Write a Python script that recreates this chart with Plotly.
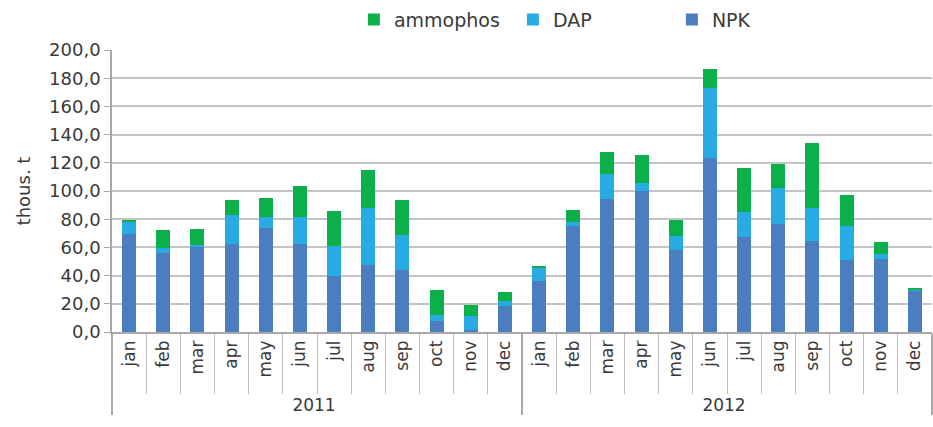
import plotly.graph_objects as go

# Monthly shipments, thousand tonnes
years = ["2011"] * 12 + ["2012"] * 12
months = ["jan", "feb", "mar", "apr", "may", "jun",
          "jul", "aug", "sep", "oct", "nov", "dec"] * 2

npk = [69.8, 56.1, 60.8, 62.5, 73.6, 62.7, 40.0, 47.6, 44.3, 7.6, 1.2, 18.7,
       36.4, 75.0, 94.0, 99.9, 58.0, 123.6, 67.2, 76.7, 64.4, 51.4, 51.8, 29.6]
dap = [8.1, 3.3, 1.2, 20.3, 7.8, 18.7, 20.8, 40.2, 24.8, 4.2, 10.2, 3.1,
       9.3, 3.3, 18.4, 5.9, 9.9, 49.7, 18.0, 25.3, 23.6, 23.6, 3.8, 0.5]
ammophos = [1.6, 12.8, 11.4, 10.9, 13.7, 22.5, 24.9, 27.0, 24.6, 18.3, 7.5, 6.6,
            1.4, 8.1, 15.2, 19.4, 11.6, 13.0, 31.2, 17.3, 46.2, 22.3, 8.3, 1.1]

series = [("NPK", npk, "#4a7ebf"),
          ("DAP", dap, "#28abe2"),
          ("ammophos", ammophos, "#0cb04b")]

font_family = "DejaVu Sans"
text_color = "#3a3a3a"
grid_color = "#c4c4c4"

fig = go.Figure()
for name, vals, color in series:
    fig.add_trace(go.Bar(
        x=[years, months], y=vals, name=name,
        marker=dict(color=color, line=dict(width=0)),
    ))

fig.update_layout(
    barmode="stack",
    bargap=0.59,
    width=933, height=427,
    margin=dict(l=112, r=1, t=50, b=95),
    paper_bgcolor="white",
    plot_bgcolor="white",
    separators=", ",
    font=dict(family=font_family, size=17, color=text_color),
    legend=dict(
        orientation="h", traceorder="reversed",
        x=0.295, xanchor="left", y=1.04, yanchor="bottom",
        font=dict(size=19, color=text_color),
        entrywidth=114, itemwidth=30,
        bgcolor="rgba(0,0,0,0)",
    ),
    showlegend=True,
)

fig.update_yaxes(
    range=[0, 200], dtick=20, tickformat=".1f",
    showgrid=True, gridcolor=grid_color, gridwidth=1.5,
    showline=True, linecolor="#a8a8a8", linewidth=1.5,
    ticks="outside", ticklen=6, tickcolor="#a8a8a8",
    tickfont=dict(size=18, color=text_color),
    title=dict(text="thous. t", font=dict(size=18, color=text_color), standoff=14),
    zeroline=False,
)

fig.update_xaxes(
    type="multicategory",
    tickangle=-90,
    showline=True, linecolor="#a8a8a8", linewidth=1.5,
    ticks="outside", tickson="boundaries", ticklen=60, tickcolor="#bdbdbd",
    showdividers=True, dividercolor="#a8a8a8", dividerwidth=1.5,
    tickfont=dict(size=17, color=text_color),
)

fig.write_html("out.html")
